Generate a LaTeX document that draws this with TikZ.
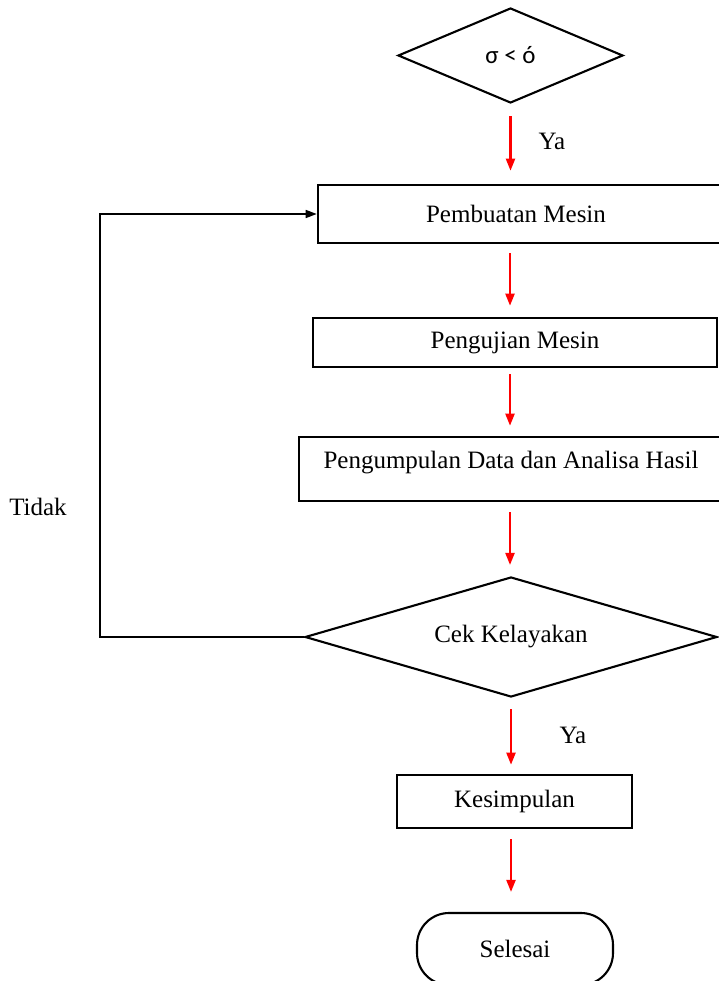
\documentclass[tikz,border=0pt]{standalone}
\usepackage{fontspec}
\setmainfont{Liberation Serif}
\newfontfamily\carlfont{Carlito}
\usetikzlibrary{shapes.geometric,arrows.meta}
\tikzset{
  boxnode/.style={draw=black, line width=2.6pt, rectangle, inner sep=0pt, font=\fontsize{25}{30}\selectfont},
  decision/.style={draw=black, line width=2.1pt, diamond, inner sep=0pt, font=\fontsize{25}{30}\selectfont},
  termnode/.style={draw=black, line width=2.1pt, rectangle, rounded corners=32pt, inner sep=0pt, font=\fontsize{25}{30}\selectfont},
  redarr/.style={draw=red, line width=2.1pt, -{Triangle[length=12pt,width=9pt]}},
  fbarr/.style={draw=black, line width=1.6pt, -{Triangle[length=11pt,width=8pt]}},
  lbl/.style={font=\fontsize{25}{30}\selectfont, inner sep=0pt}
}
\begin{document}
\begin{tikzpicture}[x=1pt,y=-1pt]
\useasboundingbox (0,0) rectangle (719,981);
\clip (0,0) rectangle (719,981);
\fill[white] (0,0) rectangle (719,981);
% nodes
\node[decision, minimum width=225pt, minimum height=95pt, aspect=2.37] (d1) at (510.5,55.5) {\carlfont σ < ó};
\node[boxnode, minimum width=404pt, minimum height=58pt, label={[lbl, xshift=-4pt]center:Pembuatan Mesin}] (b1) at (520,214) {};
\node[boxnode, minimum width=404pt, minimum height=49pt] (b2) at (515,342.5) {Pengujian Mesin};
\node[boxnode, minimum width=424pt, minimum height=64pt, label={[lbl, yshift=6.5pt]center:Pengumpulan Data dan Analisa Hasil}] (b3) at (511,469) {};
\node[decision, minimum width=412pt, minimum height=120pt, aspect=3.43] (d2) at (511,637) {Cek Kelayakan};
\node[boxnode, minimum width=235pt, minimum height=53pt] (b4) at (514.5,801.5) {Kesimpulan};
\node[termnode, minimum width=196pt, minimum height=72pt] (t) at (515,949) {};
\node[lbl] (tt) at (515,949) {Selesai};
\node[lbl] (ya1) at (552,141) {Ya};
\node[lbl] (ya2) at (573,735) {Ya};
\node[lbl] (tidak) at (38,507) {Tidak};
\coordinate (ax) at (510,0);
\coordinate (corner) at (100,637);
% connectors
\draw[redarr] ([yshift=-12pt]d1.south) -- ([yshift=13pt]d1.south |- b1.north);
\draw[redarr] ([yshift=-9pt]ax |- b1.south) -- ([yshift=11pt]ax |- b2.north);
\draw[redarr] ([yshift=-6pt]ax |- b2.south) -- ([yshift=10pt]ax |- b3.north);
\draw[redarr] ([yshift=-10pt]ax |- b3.south) -- ([yshift=11pt]ax |- d2.north);
\draw[redarr] ([yshift=-11pt]d2.south) -- ([yshift=9pt]d2.south |- b4.north);
\draw[redarr] ([yshift=-10pt]d2.south |- b4.south) -- ([yshift=20pt]d2.south |- t.north);
\draw[fbarr] (d2.west) -- (corner) |- (b1.west);
\end{tikzpicture}
\end{document}
